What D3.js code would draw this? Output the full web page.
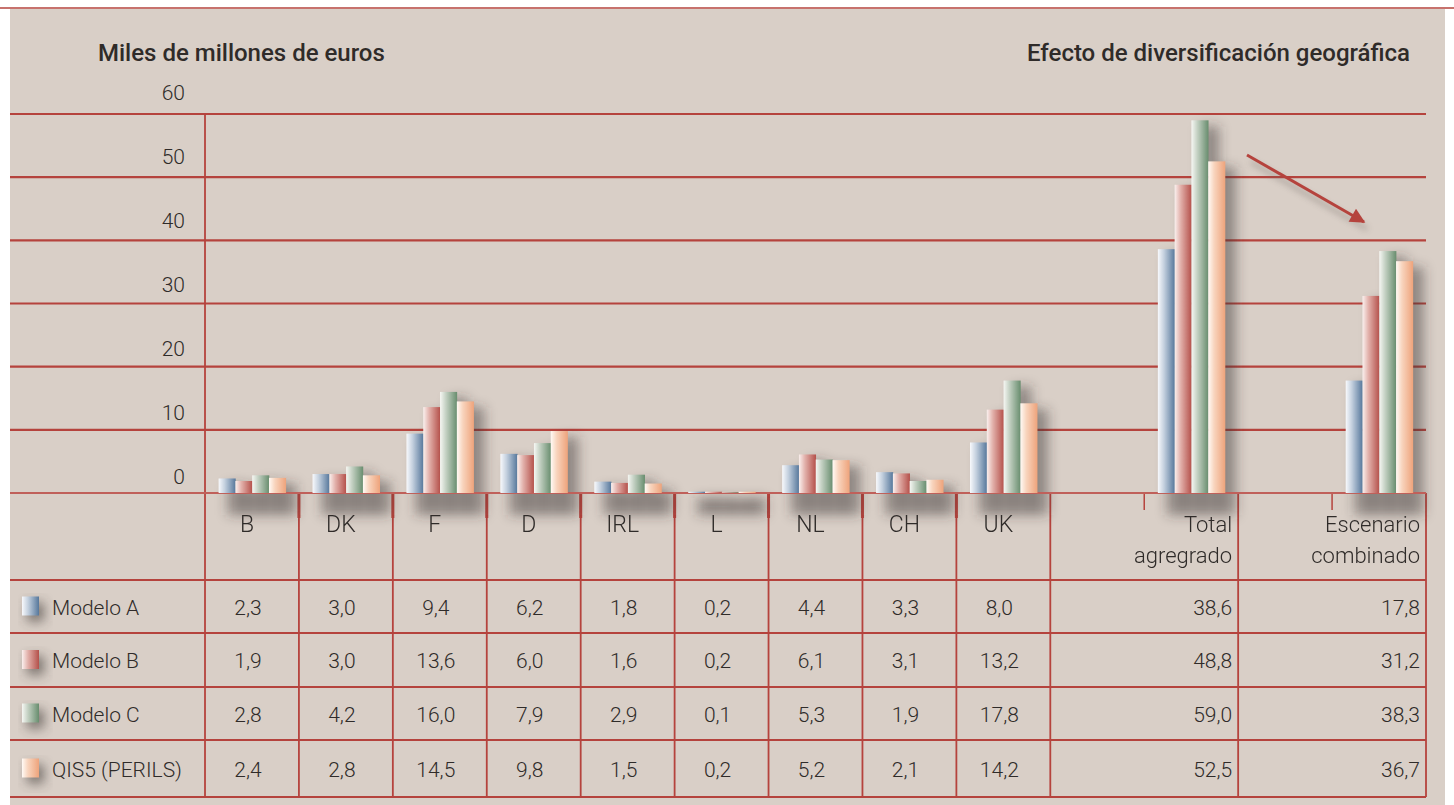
<!DOCTYPE html>
<html>
<head>
<meta charset="utf-8">
<script src="https://cdn.jsdelivr.net/npm/d3@7"></script>
<style>
html,body{margin:0;padding:0;background:#fff;}
svg{display:block;font-family:Roboto,"Noto Sans",sans-serif;}
</style>
</head>
<body>
<svg id="chart" width="1454" height="805"></svg>
<script>
// ---------- data ----------
const categories = ["B","DK","F","D","IRL","L","NL","CH","UK","Total agregrado","Escenario combinado"];
const categoryLabels = [["B"],["DK"],["F"],["D"],["IRL"],["L"],["NL"],["CH"],["UK"],["Total","agregrado"],["Escenario","combinado"]];
const seriesNames = ["Modelo A","Modelo B","Modelo C","QIS5 (PERILS)"];
const modeloA = [2.3,3.0,9.4,6.2,1.8,0.2,4.4,3.3,8.0,38.6,17.8];
const modeloB = [1.9,3.0,13.6,6.0,1.6,0.2,6.1,3.1,13.2,48.8,31.2];
const modeloC = [2.8,4.2,16.0,7.9,2.9,0.1,5.3,1.9,17.8,59.0,38.3];
const qis5    = [2.4,2.8,14.5,9.8,1.5,0.2,5.2,2.1,14.2,52.5,36.7];
const yTicks = [0,10,20,30,40,50,60];
const yTitle = "Miles de millones de euros";
const rightTitle = "Efecto de diversificación geográfica";

const seriesValues = [modeloA, modeloB, modeloC, qis5];

// ---------- setup ----------
const svg = d3.select("#chart");
const W = 1454, H = 805;
const red = "#b5433d";
const textCol = "#2f2b29";
const gridLeft = 10, plotLeft = 205, plotRight = 1426;
const tableTop = 493, tableBottom = 797;
const rowLines = [580, 633, 687, 740, 797];

const locale = d3.formatLocale({decimal:",", thousands:".", grouping:[3], currency:["","€"]});
const fmt = locale.format(".1f");

// slots: 9 countries, blank, total, blank, escenario
const nCountries = 9;
const slotOf = i => i < nCountries ? i : nCountries + 1 + (i - nCountries) * 2;
const x = d3.scaleBand().domain(d3.range(13)).range([plotLeft, plotRight]).paddingInner(0).paddingOuter(0);
const bw = x.bandwidth();
const inner = d3.scaleBand().domain(seriesNames).range([bw*0.145, bw*0.86]).paddingInner(0);
const y = d3.scaleLinear().domain([0, 60]).range([tableTop, 114]);

const colors = [
  ["#f8f9fc","#c5d1df","#56779b"],
  ["#faf0ee","#e2b1ab","#b4504a"],
  ["#f6f7f3","#c3d0c2","#688d6e"],
  ["#fffaf5","#f8d4bd","#eea37b"]
];

// ---------- defs ----------
const defs = svg.append("defs");
colors.forEach((c, i) => {
  const g = defs.append("linearGradient").attr("id", "grad" + i).attr("x1", "0").attr("x2", "1").attr("y1", "0").attr("y2", "0");
  g.append("stop").attr("offset", "0").attr("stop-color", c[0]);
  g.append("stop").attr("offset", "0.35").attr("stop-color", c[1]);
  g.append("stop").attr("offset", "1").attr("stop-color", c[2]);
});
const f = defs.append("filter").attr("id", "blur").attr("x", "-50%").attr("y", "-50%").attr("width", "200%").attr("height", "200%");
f.append("feGaussianBlur").attr("stdDeviation", 6);
const f2 = defs.append("filter").attr("id", "blur2").attr("x", "-50%").attr("y", "-50%").attr("width", "200%").attr("height", "200%");
f2.append("feGaussianBlur").attr("stdDeviation", 3);
defs.append("marker").attr("id", "arrowhead").attr("viewBox", "0 0 10 10").attr("refX", 9).attr("refY", 5)
  .attr("markerWidth", 6).attr("markerHeight", 5).attr("orient", "auto").attr("markerUnits", "strokeWidth")
  .append("path").attr("d", "M0,0 L10,5 L0,10 Z").attr("fill", red);

// ---------- background ----------
svg.append("rect").attr("x", 0).attr("y", 0).attr("width", W).attr("height", H).attr("fill", "#fff");
svg.append("rect").attr("x", gridLeft).attr("y", 9).attr("width", 1435).attr("height", H - 9).attr("fill", "#d9cfc7");
svg.append("line").attr("x1", 0).attr("x2", W).attr("y1", 8).attr("y2", 8).attr("stroke", red).attr("stroke-width", 1.5);

// ---------- titles ----------
svg.append("text").attr("x", 98).attr("y", 61).attr("font-size", 24).attr("font-weight", 500).attr("fill", textCol).text(yTitle);
svg.append("text").attr("x", 1410).attr("y", 61).attr("text-anchor", "end").attr("font-size", 24).attr("font-weight", 500).attr("fill", textCol).text(rightTitle);

// ---------- gridlines + y labels ----------
const gy = svg.append("g");
gy.selectAll("line.grid").data(yTicks.filter(d => d > 0)).join("line")
  .attr("x1", gridLeft).attr("x2", plotRight)
  .attr("y1", d => y(d)).attr("y2", d => y(d))
  .attr("stroke", red).attr("stroke-width", 2.2);
gy.selectAll("text").data(yTicks).join("text")
  .attr("x", 185).attr("y", d => y(d) - 9 - d * 0.08).attr("text-anchor", "end")
  .attr("font-size", 21).attr("font-weight", 300).attr("fill", textCol).text(d => d);

// vertical axis line
svg.append("line").attr("x1", plotLeft).attr("x2", plotLeft).attr("y1", y(60)).attr("y2", tableBottom).attr("stroke", red).attr("stroke-width", 1.8);

// ---------- table lines ----------
const tl = svg.append("g");
tl.selectAll("line.row").data(rowLines).join("line")
  .attr("x1", gridLeft).attr("x2", plotRight).attr("y1", d => d).attr("y2", d => d)
  .attr("stroke", red).attr("stroke-width", 2);
const colBounds = [];
categories.forEach((c, i) => { if (i > 0) colBounds.push({pos: x(slotOf(i)) - (i >= nCountries ? bw : 0)}); });
colBounds.push({pos: plotRight});
tl.selectAll("line.col").data(colBounds).join("line")
  .attr("x1", d => d.pos).attr("x2", d => d.pos).attr("y1", tableTop).attr("y2", tableBottom)
  .attr("stroke", red).attr("stroke-width", 1.8);
tl.selectAll("line.tick").data(colBounds.slice(0, 8)).join("line")
  .attr("x1", d => d.pos).attr("x2", d => d.pos).attr("y1", tableTop).attr("y2", tableTop + 25)
  .attr("stroke", red).attr("stroke-width", 3);
tl.selectAll("line.sub").data(categories.slice(nCountries)).join("line")
  .attr("x1", (d, k) => x(slotOf(nCountries + k))).attr("x2", (d, k) => x(slotOf(nCountries + k)))
  .attr("y1", tableTop).attr("y2", tableTop + 17)
  .attr("stroke", red).attr("stroke-width", 1.5);

// ---------- bars ----------
const barData = [];
categories.forEach((c, i) => {
  seriesNames.forEach((s, j) => {
    barData.push({cat: i, s: j, name: s, v: seriesValues[j][i]});
  });
});
const bx = d => x(slotOf(d.cat)) + inner(d.name);
const sh = svg.append("g").attr("filter", "url(#blur)");
sh.selectAll("rect").data(barData).join("rect")
  .attr("x", d => bx(d) + 9).attr("y", d => y(d.v) + 6)
  .attr("width", inner.bandwidth() + 2).attr("height", d => tableTop - y(d.v) + 16)
  .attr("fill", "#3b3431").attr("opacity", 0.45);
svg.append("line").attr("x1", gridLeft).attr("x2", plotRight).attr("y1", tableTop).attr("y2", tableTop)
  .attr("stroke", "#c0605a").attr("stroke-width", 2);
svg.append("g").selectAll("rect").data(barData).join("rect")
  .attr("x", d => bx(d)).attr("y", d => y(d.v))
  .attr("width", inner.bandwidth() + 0.3).attr("height", d => tableTop - y(d.v))
  .attr("fill", d => `url(#grad${d.s})`);

// ---------- arrow ----------
const ag = svg.append("g");
ag.append("line").attr("x1", 1251).attr("y1", 162).attr("x2", 1367).attr("y2", 229)
  .attr("stroke", "#6b615c").attr("stroke-width", 3).attr("opacity", 0.5).attr("filter", "url(#blur2)");
ag.append("line").attr("x1", 1247).attr("y1", 155).attr("x2", 1364).attr("y2", 222)
  .attr("stroke", red).attr("stroke-width", 3).attr("marker-end", "url(#arrowhead)");

// ---------- category labels ----------
const lab = svg.append("g").attr("font-weight", 300).attr("fill", textCol);
categories.forEach((c, i) => {
  const lines = categoryLabels[i];
  const isTotal = i >= nCountries;
  const tx = isTotal ? x(slotOf(i)) + bw - 6 : x(slotOf(i)) + bw / 2 - 5;
  const t = lab.append("text").attr("font-size", isTotal ? 22 : 23)
    .attr("x", tx).attr("text-anchor", isTotal ? "end" : "middle");
  lines.forEach((ln, k) => t.append("tspan").attr("x", tx).attr("y", 532 + k * 31).text(ln));
});

// ---------- table rows ----------
const rowsG = svg.append("g").attr("font-size", 21).attr("font-weight", 300).attr("fill", textCol);
seriesNames.forEach((s, j) => {
  const cy = (rowLines[j] + rowLines[j + 1]) / 2;
  rowsG.append("rect").attr("x", 27).attr("y", cy - 4).attr("width", 17).attr("height", 19)
    .attr("fill", "#3b3431").attr("opacity", 0.6).attr("filter", "url(#blur)");
  rowsG.append("rect").attr("x", 22).attr("y", cy - 10).attr("width", 17).attr("height", 19).attr("fill", `url(#grad${j})`);
  rowsG.append("text").attr("x", 52).attr("y", cy + 8).text(s);
  seriesValues[j].forEach((v, i) => {
    const isTotal = i >= nCountries;
    rowsG.append("text")
      .attr("x", isTotal ? x(slotOf(i)) + bw - 6 : x(slotOf(i)) + bw / 2 - 4)
      .attr("y", cy + 8)
      .attr("text-anchor", isTotal ? "end" : "middle")
      .text(fmt(v));
  });
});
</script>
</body>
</html>
